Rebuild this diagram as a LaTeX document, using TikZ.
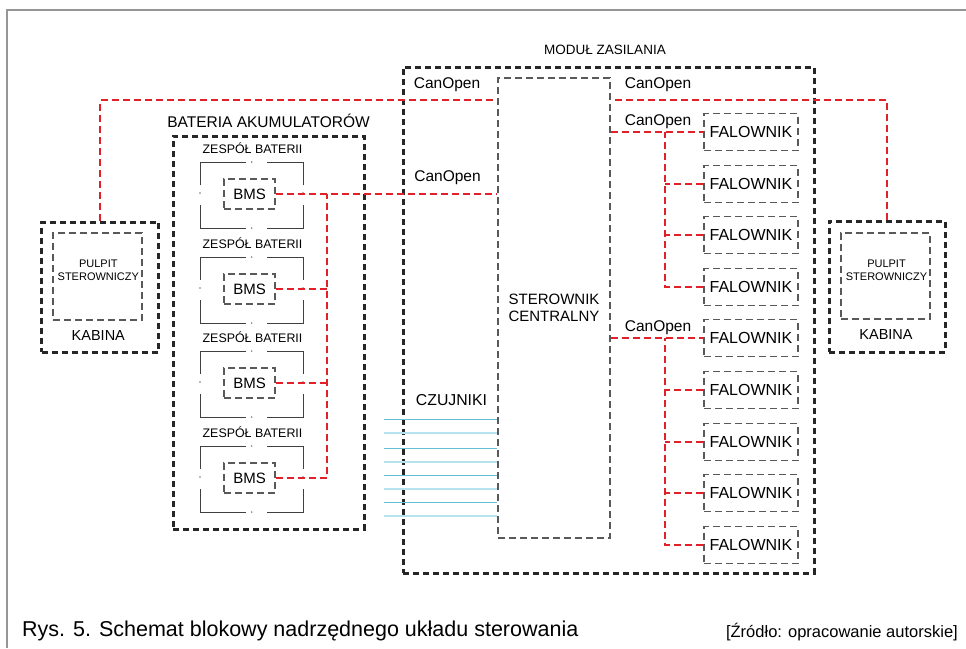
\documentclass[tikz,border=0pt]{standalone}
\usepackage{fontspec}
\setmainfont{Liberation Sans}
\definecolor{canred}{RGB}{226,32,40}
\definecolor{frame}{RGB}{150,150,150}
\definecolor{sensdark}{RGB}{100,192,212}
\definecolor{senslight}{RGB}{182,226,238}
\tikzset{
  thickbox/.style={draw=black!85, line width=3pt, dash pattern=on 6pt off 4pt, inner sep=0pt},
  graybox/.style={draw=black!65, line width=1.3pt, dash pattern=on 7pt off 4pt, inner sep=0pt},
  canline/.style={draw=canred, line width=1.9pt, dash pattern=on 7pt off 4pt},
  bracket/.style={draw=black!75, line width=1pt},
  sensA/.style={draw=sensdark, line width=1.2pt},
  sensB/.style={draw=senslight, line width=2.2pt},
  lbl/.style={inner sep=0pt, font=\fontsize{15.5}{18}\selectfont},
  small/.style={inner sep=0pt, font=\fontsize{12.4}{14}\selectfont},
  pulpit/.style={inner sep=0pt, align=center, font=\fontsize{11}{12.7}\selectfont},
  falbox/.style={graybox, minimum width=94pt, minimum height=37pt, font=\fontsize{16}{18}\selectfont},
  bmsbox/.style={graybox, minimum width=51pt, minimum height=30pt, font=\fontsize{15}{18}\selectfont}
}
\begin{document}
\begin{tikzpicture}[x=1pt,y=-1pt]
\useasboundingbox (0,0) rectangle (966,648);
% outer frame
\draw[frame, line width=1.5pt] (7,648) -- (7,10) -- (966,10);

% cabins
\node[thickbox, minimum width=117pt, minimum height=130pt] (kabL) at (100,287) {};
\node[graybox, minimum width=89pt, minimum height=87pt] (pulL) at (97.5,276.5) {};
\node[pulpit] (pulLt) at (98.3,270.5) {PULPIT\\STEROWNICZY};
\node[lbl, font=\fontsize{14.5}{17}\selectfont] (kabLt) at (98.3,336) {KABINA};

\node[thickbox, minimum width=116pt, minimum height=131pt] (kabR) at (887,286.5) {};
\node[graybox, minimum width=89pt, minimum height=86pt] (pulR) at (885.5,276) {};
\node[pulpit] (pulRt) at (886.5,270.5) {PULPIT\\STEROWNICZY};
\node[lbl, font=\fontsize{14.5}{17}\selectfont] (kabRt) at (886,335) {KABINA};

% power module
\node[thickbox, minimum width=411pt, minimum height=506pt] (mod) at (608.5,320) {};
\node[lbl, font=\fontsize{13.5}{16}\selectfont] (modt) at (605,50) {MODUŁ ZASILANIA};
\node[graybox, minimum width=112pt, minimum height=460pt, align=center,
      font=\fontsize{15}{17}\selectfont] (ctrl) at (554,308) {STEROWNIK\\CENTRALNY};

% battery
\node[thickbox, minimum width=191pt, minimum height=393pt] (bat) at (268.5,332.5) {};
\node[lbl] (batt) at (268.5,120.6) {BATERIA AKUMULATORÓW};

\foreach \i/\cy in {1/195,2/290,3/384,4/479}{
  \node[small] (zes\i) at (252.5,\cy-46.5) {ZESPÓŁ BATERII};
  \draw[bracket] (246,\cy-33) -| (200,\cy-10);
  \draw[bracket] (200,\cy+10) |- (246,\cy+33);
  \draw[bracket] (267,\cy-33) -| (303,\cy-10);
  \draw[bracket] (303,\cy+10) |- (267,\cy+33);
  \fill[black!55] (251.7,\cy-33) circle (0.8pt) (251.7,\cy+33) circle (0.8pt)
        (200,\cy-2) circle (0.8pt) (303,\cy-2) circle (0.8pt);
  \node[bmsbox] (bms\i) at (249.5,\cy-1) {BMS};
}

% inverters
\foreach \i/\fy in {1/132,2/184,3/235,4/287,5/338,6/390,7/442,8/493,9/545}{
  \node[falbox] (fal\i) at (751,\fy) {FALOWNIK};
}

% labels
\node[lbl] (co1) at (447,85) {CanOpen};
\node[lbl] (co2) at (447.5,178) {CanOpen};
\node[lbl] (co3) at (658,85) {CanOpen};
\node[lbl] (co4) at (658,122) {CanOpen};
\node[lbl] (co5) at (658,328) {CanOpen};
\node[lbl, font=\fontsize{15.8}{18}\selectfont] (czu) at (451.5,400) {CZUJNIKI};

% CAN connections
\coordinate (top) at (0,100);
\coordinate (bus) at (327,0);
\coordinate (br) at (665,0);
\draw[canline] (kabL.north) |- (ctrl.west |- top);
\draw[canline] (kabR.north) |- (ctrl.east |- top);
\draw[canline] (bms1.east) -- (ctrl.west |- bms1.east);
\draw[canline] (bms4.east) -| (bus |- bms1.east);
\foreach \i in {2,3}{\draw[canline] (bms\i.east) -- (bus |- bms\i.east);}
\draw[canline] (ctrl.east |- fal1.west) -- (fal1.west);
\draw[canline] (fal4.west) -| (br |- fal1.west);
\foreach \i in {2,3}{\draw[canline] (fal\i.west) -- (br |- fal\i.west);}
\draw[canline] (ctrl.east |- fal5.west) -- (fal5.west);
\draw[canline] (fal9.west) -| (br |- fal5.west);
\foreach \i in {6,7,8}{\draw[canline] (fal\i.west) -- (br |- fal\i.west);}

% sensors
\foreach \y/\s [count=\k] in {419.3/sensA,432.7/sensB,448.3/sensA,461.7/sensB,475.7/sensA,488.7/sensB,502.3/sensA,515.7/sensB}{
  \coordinate (s\k) at (384,\y);
  \draw[\s] (s\k) -- (ctrl.west |- s\k);
}

% caption
\node[inner sep=0pt, anchor=west, font=\fontsize{21.5}{24}\selectfont] (cap) at (22,631) {Rys. 5. Schemat blokowy nadrzędnego układu sterowania};
\node[inner sep=0pt, anchor=east, font=\fontsize{16.5}{19}\selectfont] (src) at (958,632) {[Źródło: opracowanie autorskie]};
\end{tikzpicture}
\end{document}
